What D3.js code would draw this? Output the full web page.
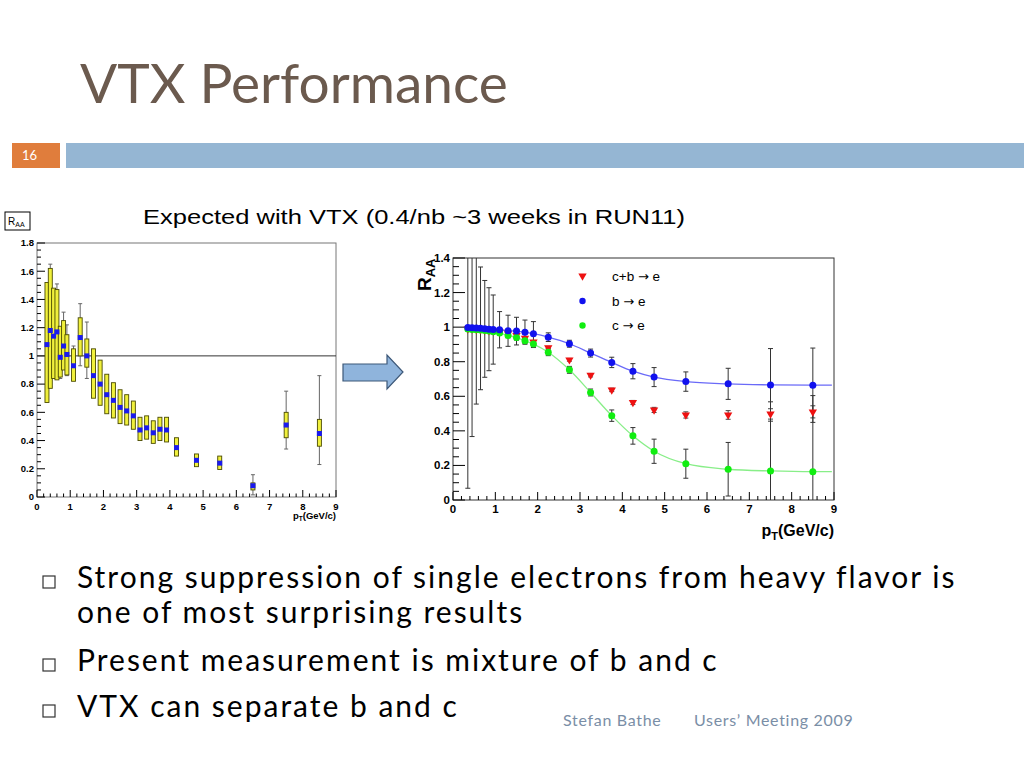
<!DOCTYPE html>
<html>
<head>
<meta charset="utf-8">
<script src="https://cdn.jsdelivr.net/npm/d3@7"></script>
<style>
body { margin: 0; background: #fff; }
svg { display: block; }
</style>
</head>
<body>
<svg></svg>
<script>
// ---- left plot: measured RAA (heavy flavour electrons) ----
var leftPt   = [0.3, 0.4, 0.5, 0.6, 0.7, 0.8, 0.9, 1.1, 1.3, 1.5, 1.7, 1.9, 2.1, 2.3, 2.5, 2.7, 2.9, 3.1, 3.3, 3.5, 3.7, 3.9, 4.2, 4.8, 5.5, 6.5, 7.5, 8.5];
var leftVal  = [1.08, 1.18, 1.14, 1.17, 0.99, 1.07, 1.01, 0.93, 1.13, 1.0, 0.86, 0.80, 0.725, 0.685, 0.635, 0.61, 0.575, 0.475, 0.49, 0.455, 0.48, 0.475, 0.35, 0.26, 0.24, 0.08, 0.51, 0.45];
var leftSysHi = [1.52, 1.62, 1.48, 1.47, 1.21, 1.25, 1.15, 1.05, 1.27, 1.12, 1.05, 0.97, 0.87, 0.81, 0.76, 0.725, 0.68, 0.565, 0.575, 0.54, 0.565, 0.565, 0.42, 0.305, 0.29, 0.10, 0.60, 0.55];
var leftSysLo = [0.67, 0.77, 0.84, 0.83, 0.85, 0.90, 0.865, 0.82, 1.0, 0.92, 0.70, 0.65, 0.59, 0.56, 0.52, 0.51, 0.48, 0.40, 0.41, 0.38, 0.40, 0.39, 0.29, 0.215, 0.195, 0.05, 0.42, 0.36];
var leftStatUp = [0.30, 0.47, 0.30, 0.34, 0.20, 0.24, 0.21, 0.14, 0.24, 0.24, 0.10, 0.10, 0.08, 0.07, 0.06, 0.05, 0.04, 0.04, 0.04, 0.04, 0.04, 0.04, 0.04, 0.03, 0.03, 0.078, 0.24, 0.41];
var leftStatDn = [0.30, 0.40, 0.30, 0.30, 0.15, 0.15, 0.15, 0.10, 0.20, 0.16, 0.10, 0.10, 0.08, 0.07, 0.06, 0.05, 0.04, 0.04, 0.04, 0.04, 0.04, 0.04, 0.04, 0.03, 0.03, 0.065, 0.17, 0.22];

// ---- right plot: expected with VTX ----
var rightPt = [0.35, 0.45, 0.55, 0.65, 0.75, 0.85, 0.95, 1.1, 1.3, 1.5, 1.7, 1.9, 2.25, 2.75, 3.25, 3.75, 4.25, 4.75, 5.5, 6.5, 7.5, 8.5];
var bVal  = [0.998, 0.997, 0.995, 0.993, 0.99, 0.988, 0.986, 0.985, 0.979, 0.977, 0.971, 0.962, 0.942, 0.904, 0.85, 0.796, 0.745, 0.711, 0.685, 0.672, 0.666, 0.664];
var bErr  = [0.93, 0.63, 0.44, 0.355, 0.28, 0.24, 0.20, 0.105, 0.09, 0.08, 0.07, 0.07, 0.025, 0.02, 0.023, 0.03, 0.044, 0.055, 0.056, 0.09, 0.21, 0.215];
var cVal  = [0.989, 0.987, 0.985, 0.983, 0.98, 0.977, 0.974, 0.966, 0.952, 0.94, 0.921, 0.902, 0.855, 0.753, 0.622, 0.488, 0.371, 0.282, 0.21, 0.178, 0.168, 0.164];
var cErr  = [0.01, 0.01, 0.01, 0.01, 0.01, 0.01, 0.01, 0.012, 0.013, 0.015, 0.015, 0.02, 0.02, 0.02, 0.02, 0.033, 0.048, 0.07, 0.084, 0.155, 0.40, 0.44];
var cbVal = [0.99, 0.989, 0.987, 0.985, 0.983, 0.98, 0.978, 0.972, 0.962, 0.952, 0.937, 0.915, 0.881, 0.811, 0.722, 0.637, 0.564, 0.521, 0.492, 0.492, 0.498, 0.51];
var cbErr = [0.005, 0.005, 0.005, 0.005, 0.005, 0.005, 0.005, 0.005, 0.005, 0.006, 0.006, 0.008, 0.008, 0.008, 0.01, 0.01, 0.012, 0.015, 0.018, 0.025, 0.03, 0.035];
var fitEnd = 8.95;

var legendNames = ["c+b", "b", "c"];
var xTicks = [0, 1, 2, 3, 4, 5, 6, 7, 8, 9];
var leftYTicks = [0, 0.2, 0.4, 0.6, 0.8, 1, 1.2, 1.4, 1.6, 1.8];
var rightYTicks = [0, 0.2, 0.4, 0.6, 0.8, 1, 1.2, 1.4];

var bullets = [
    ["Strong suppression of single electrons from heavy flavor is", "one of most surprising results"],
    ["Present measurement is mixture of b and c"],
    ["VTX can separate b and c"]
];

var w = 1024, h = 768;
var svg = d3.select("svg").attr("width", w).attr("height", h);
var slideFont = "Lato, 'Open Sans', sans-serif";
var plotFont = "'Liberation Sans', Arial, Helvetica, sans-serif";

// ---------------- slide decoration ----------------
svg.append("text")
    .attr("x", 80).attr("y", 103)
    .attr("font-family", slideFont)
    .attr("font-size", 55)
    .attr("fill", "#6b5a4e")
    .text("VTX Performance");

svg.append("rect").attr("x", 12).attr("y", 143).attr("width", 48).attr("height", 25).attr("fill", "#e07d3c");
svg.append("rect").attr("x", 66).attr("y", 143).attr("width", 958).attr("height", 25).attr("fill", "#95b6d3");
svg.append("text")
    .attr("x", 22).attr("y", 160)
    .attr("font-family", slideFont).attr("font-size", 13)
    .attr("fill", "#fff").text("16");

svg.append("text")
    .attr("x", 143).attr("y", 224)
    .attr("font-family", plotFont).attr("font-size", 21)
    .attr("textLength", 542).attr("lengthAdjust", "spacingAndGlyphs")
    .attr("fill", "#000")
    .text("Expected with VTX (0.4/nb ~3 weeks in RUN11)");

// arrow between the plots
svg.append("path")
    .attr("d", "M343,364 L387,364 L387,355 L403,372 L387,389 L387,381 L343,381 Z")
    .attr("fill", "#8fb4dc").attr("stroke", "#3d5878").attr("stroke-width", 1.2);

// bullets
var lineY = [588, 623, 671, 717];
var li = 0;
bullets.forEach(function (b) {
    svg.append("rect")
        .attr("x", 43).attr("y", lineY[li] - 12).attr("width", 12).attr("height", 12)
        .attr("fill", "none").attr("stroke", "#333").attr("stroke-width", 1.2);
    b.forEach(function (line) {
        svg.append("text")
            .attr("x", 77).attr("y", lineY[li])
            .attr("font-family", slideFont).attr("font-size", 30)
            .attr("letter-spacing", 2)
            .attr("fill", "#000")
            .text(line);
        li++;
    });
});

svg.append("text").attr("x", 563).attr("y", 726)
    .attr("font-family", slideFont).attr("font-size", 16).attr("letter-spacing", 0.7)
    .attr("fill", "#7a8ea6").text("Stefan Bathe");
svg.append("text").attr("x", 694).attr("y", 726)
    .attr("font-family", slideFont).attr("font-size", 16).attr("letter-spacing", 0.7)
    .attr("fill", "#7a8ea6").text("Users\u2019 Meeting 2009");

// ---------------- generic ROOT-like frame ----------------
function drawFrame(g, x, y, yTicks, opt) {
    var x0 = x.range()[0], x1 = x.range()[1], y0 = y.range()[0], y1 = y.range()[1];
    g.append("rect")
        .attr("x", x0).attr("y", y1).attr("width", x1 - x0).attr("height", y0 - y1)
        .attr("fill", "#fff").attr("stroke", opt.frame).attr("stroke-width", 1);

    // x ticks, inside
    d3.range(0, 9.001, 0.2).forEach(function (v) {
        var major = Math.abs(v - Math.round(v)) < 1e-6;
        g.append("line")
            .attr("x1", x(v)).attr("x2", x(v))
            .attr("y1", y0).attr("y2", y0 - (major ? opt.tMaj : opt.tMin))
            .attr("stroke", "#000").attr("stroke-width", 1);
    });
    var yMax = y.domain()[1];
    d3.range(0, yMax + 0.001, 0.05).forEach(function (v) {
        var major = Math.abs(v / 0.2 - Math.round(v / 0.2)) < 1e-6;
        g.append("line")
            .attr("x1", x0).attr("x2", x0 + (major ? opt.tMajY : opt.tMinY))
            .attr("y1", y(v)).attr("y2", y(v))
            .attr("stroke", "#000").attr("stroke-width", 1);
    });

    g.selectAll(".xl").data(xTicks).enter().append("text")
        .attr("x", d => x(d)).attr("y", y0 + opt.xlOff)
        .attr("text-anchor", "middle")
        .attr("font-family", plotFont).attr("font-weight", "bold").attr("font-size", opt.fs)
        .text(d => d);
    g.selectAll(".yl").data(yTicks).enter().append("text")
        .attr("x", x0 - opt.ylOff).attr("y", d => y(d) + opt.fs * 0.35)
        .attr("text-anchor", "end")
        .attr("font-family", plotFont).attr("font-weight", "bold").attr("font-size", opt.fs)
        .text(d => d);
}

// ---------------- left plot ----------------
var lx = d3.scaleLinear().domain([0, 9]).range([37, 336]);
var ly = d3.scaleLinear().domain([0, 1.8]).range([497, 243]);
var gl = svg.append("g");
drawFrame(gl, lx, ly, leftYTicks, { frame: "#777", tMaj: 7, tMin: 3.5, tMajY: 8, tMinY: 4, fs: 9.5, xlOff: 13, ylOff: 3 });

gl.append("line")
    .attr("x1", lx(0)).attr("x2", lx(9)).attr("y1", ly(1)).attr("y2", ly(1))
    .attr("stroke", "#333").attr("stroke-width", 1);

var leftData = leftPt.map((p, i) => ({ x: p, y: leftVal[i], lo: leftSysLo[i], hi: leftSysHi[i], su: leftStatUp[i], sd: leftStatDn[i] }));

var lErr = gl.selectAll(".lerr").data(leftData).enter().append("g");
lErr.append("line")
    .attr("x1", d => lx(d.x)).attr("x2", d => lx(d.x))
    .attr("y1", d => ly(d.y + d.su)).attr("y2", d => ly(d.y - d.sd))
    .attr("stroke", "#666").attr("stroke-width", 1);
lErr.append("line")
    .attr("x1", d => lx(d.x) - 2).attr("x2", d => lx(d.x) + 2)
    .attr("y1", d => ly(d.y + d.su)).attr("y2", d => ly(d.y + d.su))
    .attr("stroke", "#666");
lErr.append("line")
    .attr("x1", d => lx(d.x) - 2).attr("x2", d => lx(d.x) + 2)
    .attr("y1", d => ly(d.y - d.sd)).attr("y2", d => ly(d.y - d.sd))
    .attr("stroke", "#666");

gl.selectAll(".sys").data(leftData).enter().append("rect")
    .attr("x", d => lx(d.x - 0.06)).attr("width", d => lx(0.12) - lx(0))
    .attr("y", d => ly(d.hi)).attr("height", d => ly(d.lo) - ly(d.hi))
    .attr("fill", "#f0f03c").attr("stroke", "#4a4a00").attr("stroke-width", 0.9);

gl.selectAll(".lpt").data(leftData).enter().append("rect")
    .attr("x", d => lx(d.x) - 2.5).attr("y", d => ly(d.y) - 2.5)
    .attr("width", 5).attr("height", 5)
    .attr("fill", "#1a1aee");

// R_AA box label
gl.append("rect").attr("x", 5).attr("y", 212).attr("width", 25).attr("height", 18)
    .attr("fill", "#fff").attr("stroke", "#000").attr("stroke-width", 1);
var lr = gl.append("text").attr("x", 8).attr("y", 225)
    .attr("font-family", plotFont).attr("font-size", 10);
lr.append("tspan").text("R");
lr.append("tspan").attr("dy", 2).attr("font-size", 7).text("AA");

var lpt = gl.append("text").attr("x", 336).attr("y", 519).attr("text-anchor", "end")
    .attr("font-family", plotFont).attr("font-weight", "bold").attr("font-size", 9.5);
lpt.append("tspan").text("p");
lpt.append("tspan").attr("dy", 2).attr("font-size", 6.5).text("T");
lpt.append("tspan").attr("dy", -2).text("(GeV/c)");

// ---------------- right plot ----------------
var rx = d3.scaleLinear().domain([0, 9]).range([453, 834]);
var ry = d3.scaleLinear().domain([0, 1.4]).range([500, 258]);
var gr = svg.append("g");
drawFrame(gr, rx, ry, rightYTicks, { frame: "#333", tMaj: 8, tMin: 4, tMajY: 12, tMinY: 6, fs: 11.5, xlOff: 13, ylOff: 3 });

gr.append("clipPath").attr("id", "rclip").append("rect")
    .attr("x", rx(0)).attr("y", ry(1.4)).attr("width", rx(9) - rx(0)).attr("height", ry(0) - ry(1.4));

function series(vals, errs) {
    return rightPt.map((p, i) => ({ x: p, y: vals[i], e: errs[i] }));
}
var bData = series(bVal, bErr), cData = series(cVal, cErr), cbData = series(cbVal, cbErr);

// fit curves through the points, continued flat to the end of the fit range
var fitLine = d3.line().x(d => rx(d.x)).y(d => ry(d.y)).curve(d3.curveMonotoneX);
var gc = gr.append("g").attr("clip-path", "url(#rclip)");
gc.append("path")
    .attr("d", fitLine(bData.concat([{ x: fitEnd, y: bData[bData.length - 1].y }])))
    .attr("fill", "none").attr("stroke", "#6a6af8").attr("stroke-width", 1.3);
gc.append("path")
    .attr("d", fitLine(cData.concat([{ x: fitEnd, y: cData[cData.length - 1].y }])))
    .attr("fill", "none").attr("stroke", "#88ee88").attr("stroke-width", 1.3);

function errBars(data, col) {
    var g = gc.append("g");
    var e = g.selectAll("g").data(data).enter().append("g");
    e.append("line")
        .attr("x1", d => rx(d.x)).attr("x2", d => rx(d.x))
        .attr("y1", d => ry(d.y + d.e)).attr("y2", d => ry(d.y - d.e))
        .attr("stroke", col).attr("stroke-width", 1);
    [1, -1].forEach(function (s) {
        e.append("line")
            .attr("x1", d => rx(d.x) - 2.5).attr("x2", d => rx(d.x) + 2.5)
            .attr("y1", d => ry(d.y + s * d.e)).attr("y2", d => ry(d.y + s * d.e))
            .attr("stroke", col).attr("stroke-width", 1);
    });
}
errBars(cbData, "#444");
errBars(cData, "#333");
errBars(bData, "#333");

var tri = d3.symbol().type(d3.symbolTriangle).size(30);
gc.selectAll(".cb").data(cbData).enter().append("path")
    .attr("d", tri)
    .attr("transform", d => "translate(" + rx(d.x) + "," + ry(d.y) + ") rotate(180)")
    .attr("fill", "#ee1111");
gc.selectAll(".c").data(cData).enter().append("circle")
    .attr("cx", d => rx(d.x)).attr("cy", d => ry(d.y)).attr("r", 3.5)
    .attr("fill", "#11ee11");
gc.selectAll(".b").data(bData).enter().append("circle")
    .attr("cx", d => rx(d.x)).attr("cy", d => ry(d.y)).attr("r", 3.5)
    .attr("fill", "#1111ee");

// legend
var legY = [276, 301, 325.5];
var leg = gr.append("g");
leg.append("path").attr("d", tri).attr("transform", "translate(582.5," + legY[0] + ") rotate(180)").attr("fill", "#ee1111");
leg.append("circle").attr("cx", 582.5).attr("cy", legY[1]).attr("r", 3.2).attr("fill", "#1111ee");
leg.append("circle").attr("cx", 582.5).attr("cy", legY[2]).attr("r", 3.2).attr("fill", "#11ee11");
var legText = leg.selectAll("text").data(legendNames).enter().append("text")
    .attr("x", 612).attr("y", (d, i) => legY[i] + 4.5)
    .attr("font-family", plotFont).attr("font-size", 13.5);
legText.append("tspan").text(d => d + " ");
legText.append("tspan").attr("font-family", "'DejaVu Sans', sans-serif").attr("font-size", 13).text("\u2192");
legText.append("tspan").text(" e");

// axis titles
var ryt = gr.append("text")
    .attr("transform", "translate(431,291) rotate(-90)")
    .attr("font-family", plotFont).attr("font-weight", "bold").attr("font-size", 19);
ryt.append("tspan").text("R");
ryt.append("tspan").attr("dy", 4).attr("font-size", 13).text("AA");

var rpt = gr.append("text").attr("x", 834).attr("y", 536).attr("text-anchor", "end")
    .attr("font-family", plotFont).attr("font-weight", "bold").attr("font-size", 16);
rpt.append("tspan").text("p");
rpt.append("tspan").attr("dy", 4).attr("font-size", 11).text("T");
rpt.append("tspan").attr("dy", -4).text("(GeV/c)");
</script>
</body>
</html>
